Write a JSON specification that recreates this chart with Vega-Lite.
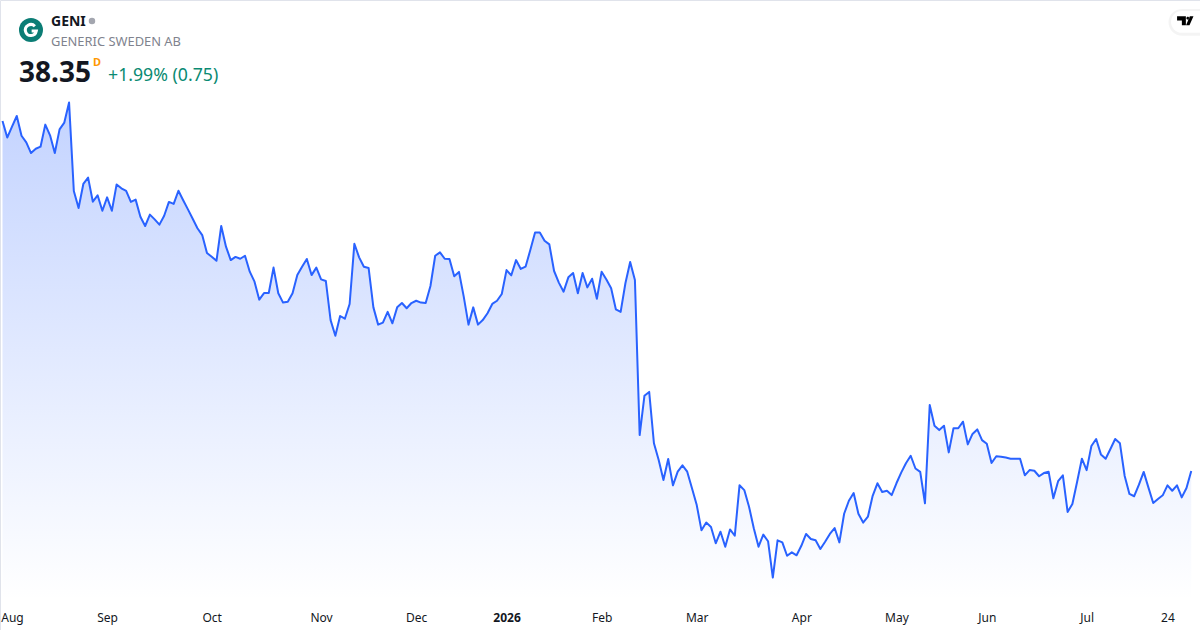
{
  "$schema": "https://vega.github.io/schema/vega-lite/v6.json",
  "width": 1200,
  "height": 630,
  "padding": 0,
  "autosize": {"type": "none"},
  "background": "#ffffff",
  "config": {"view": {"stroke": "#e0e3eb"}, "font": "Noto Sans"},
  "datasets": {
    "prices": [
      {"i":0,"p":53.75},{"i":1,"p":53.02},{"i":2,"p":53.5},{"i":3,"p":53.97},{"i":4,"p":53.1},{"i":5,"p":52.81},{"i":6,"p":52.34},{"i":7,"p":52.53},{"i":8,"p":52.62},{"i":9,"p":53.59},
      {"i":10,"p":53.12},{"i":11,"p":52.34},{"i":12,"p":53.38},{"i":13,"p":53.68},{"i":14,"p":54.56},{"i":15,"p":50.67},{"i":16,"p":49.92},{"i":17,"p":50.98},{"i":18,"p":51.26},{"i":19,"p":50.2},
      {"i":20,"p":50.48},{"i":21,"p":49.8},{"i":22,"p":50.39},{"i":23,"p":49.8},{"i":24,"p":50.96},{"i":25,"p":50.79},{"i":26,"p":50.68},{"i":27,"p":50.19},{"i":28,"p":50.29},{"i":29,"p":49.54},
      {"i":30,"p":49.13},{"i":31,"p":49.63},{"i":32,"p":49.42},{"i":33,"p":49.19},{"i":34,"p":49.58},{"i":35,"p":50.19},{"i":36,"p":50.1},{"i":37,"p":50.68},{"i":38,"p":50.26},{"i":39,"p":49.86},
      {"i":40,"p":49.45},{"i":41,"p":49.03},{"i":42,"p":48.73},{"i":43,"p":47.94},{"i":44,"p":47.78},{"i":45,"p":47.6},{"i":46,"p":49.13},{"i":47,"p":48.22},{"i":48,"p":47.63},{"i":49,"p":47.77},
      {"i":50,"p":47.69},{"i":51,"p":47.82},{"i":52,"p":47.12},{"i":53,"p":46.68},{"i":54,"p":45.89},{"i":55,"p":46.18},{"i":56,"p":46.18},{"i":57,"p":47.3},{"i":58,"p":46.17},{"i":59,"p":45.76},
      {"i":60,"p":45.8},{"i":61,"p":46.17},{"i":62,"p":46.97},{"i":63,"p":47.34},{"i":64,"p":47.68},{"i":65,"p":46.97},{"i":66,"p":47.3},{"i":67,"p":46.78},{"i":68,"p":46.71},{"i":69,"p":44.99},
      {"i":70,"p":44.3},{"i":71,"p":45.17},{"i":72,"p":45.05},{"i":73,"p":45.7},{"i":74,"p":48.35},{"i":75,"p":47.75},{"i":76,"p":47.34},{"i":77,"p":47.28},{"i":78,"p":45.55},{"i":79,"p":44.79},
      {"i":80,"p":44.88},{"i":81,"p":45.35},{"i":82,"p":44.85},{"i":83,"p":45.55},{"i":84,"p":45.74},{"i":85,"p":45.51},{"i":86,"p":45.74},{"i":87,"p":45.84},{"i":88,"p":45.76},{"i":89,"p":45.74},
      {"i":90,"p":46.49},{"i":91,"p":47.82},{"i":92,"p":47.97},{"i":93,"p":47.69},{"i":94,"p":47.68},{"i":95,"p":46.92},{"i":96,"p":47.11},{"i":97,"p":46.02},{"i":98,"p":44.79},{"i":99,"p":45.55},
      {"i":100,"p":44.79},{"i":101,"p":44.99},{"i":102,"p":45.29},{"i":103,"p":45.7},{"i":104,"p":45.84},{"i":105,"p":46.14},{"i":106,"p":47.19},{"i":107,"p":46.96},{"i":108,"p":47.63},{"i":109,"p":47.24},
      {"i":110,"p":47.34},{"i":111,"p":48.07},{"i":112,"p":48.84},{"i":113,"p":48.84},{"i":114,"p":48.48},{"i":115,"p":48.32},{"i":116,"p":47.15},{"i":117,"p":46.64},{"i":118,"p":46.24},{"i":119,"p":46.87},
      {"i":120,"p":47.06},{"i":121,"p":46.17},{"i":122,"p":47.06},{"i":123,"p":46.43},{"i":124,"p":46.81},{"i":125,"p":45.93},{"i":126,"p":47.12},{"i":127,"p":46.78},{"i":128,"p":46.39},{"i":129,"p":45.46},
      {"i":130,"p":45.35},{"i":131,"p":46.61},{"i":132,"p":47.55},{"i":133,"p":46.75},{"i":134,"p":39.93},{"i":135,"p":41.66},{"i":136,"p":41.83},{"i":137,"p":39.57},{"i":138,"p":38.83},{"i":139,"p":37.95},
      {"i":140,"p":38.88},{"i":141,"p":37.72},{"i":142,"p":38.32},{"i":143,"p":38.6},{"i":144,"p":38.32},{"i":145,"p":37.59},{"i":146,"p":36.85},{"i":147,"p":35.74},{"i":148,"p":36.08},{"i":149,"p":35.89},
      {"i":150,"p":35.17},{"i":151,"p":35.68},{"i":152,"p":35.02},{"i":153,"p":35.78},{"i":154,"p":35.5},{"i":155,"p":37.72},{"i":156,"p":37.51},{"i":157,"p":36.78},{"i":158,"p":35.83},{"i":159,"p":35.02},
      {"i":160,"p":35.55},{"i":161,"p":35.26},{"i":162,"p":33.66},{"i":163,"p":35.3},{"i":164,"p":35.21},{"i":165,"p":34.62},{"i":166,"p":34.77},{"i":167,"p":34.64},{"i":168,"p":35.06},{"i":169,"p":35.58},
      {"i":170,"p":35.36},{"i":171,"p":35.3},{"i":172,"p":34.92},{"i":173,"p":35.24},{"i":174,"p":35.58},{"i":175,"p":35.84},{"i":176,"p":35.21},{"i":177,"p":36.47},{"i":178,"p":37.04},{"i":179,"p":37.38},
      {"i":180,"p":36.47},{"i":181,"p":36.08},{"i":182,"p":36.34},{"i":183,"p":37.26},{"i":184,"p":37.81},{"i":185,"p":37.43},{"i":186,"p":37.48},{"i":187,"p":37.29},{"i":188,"p":37.81},{"i":189,"p":38.28},
      {"i":190,"p":38.69},{"i":191,"p":39.02},{"i":192,"p":38.46},{"i":193,"p":38.31},{"i":194,"p":36.93},{"i":195,"p":41.25},{"i":196,"p":40.34},{"i":197,"p":40.15},{"i":198,"p":40.34},{"i":199,"p":39.17},
      {"i":200,"p":40.23},{"i":201,"p":40.23},{"i":202,"p":40.52},{"i":203,"p":39.52},{"i":204,"p":39.98},{"i":205,"p":40.18},{"i":206,"p":39.71},{"i":207,"p":39.55},{"i":208,"p":38.7},{"i":209,"p":39.0},
      {"i":210,"p":38.98},{"i":211,"p":38.94},{"i":212,"p":38.89},{"i":213,"p":38.89},{"i":214,"p":38.89},{"i":215,"p":38.16},{"i":216,"p":38.39},{"i":217,"p":38.36},{"i":218,"p":38.12},{"i":219,"p":38.26},
      {"i":220,"p":38.32},{"i":221,"p":37.15},{"i":222,"p":37.9},{"i":223,"p":38.16},{"i":224,"p":36.55},{"i":225,"p":36.9},{"i":226,"p":37.88},{"i":227,"p":38.89},{"i":228,"p":38.39},{"i":229,"p":39.45},
      {"i":230,"p":39.76},{"i":231,"p":39.08},{"i":232,"p":38.89},{"i":233,"p":39.32},{"i":234,"p":39.76},{"i":235,"p":39.57},{"i":236,"p":38.13},{"i":237,"p":37.34},{"i":238,"p":37.24},{"i":239,"p":37.75},
      {"i":240,"p":38.31},{"i":241,"p":37.62},{"i":242,"p":36.94},{"i":243,"p":37.12},{"i":244,"p":37.28},{"i":245,"p":37.72},{"i":246,"p":37.48},{"i":247,"p":37.72},{"i":248,"p":37.19},{"i":249,"p":37.6},
      {"i":250,"p":38.35}
    ]
  },
  "layer": [
    {
      "data": {"name": "prices"},
      "mark": {
        "type": "area",
        "line": false,
        "fill": {
          "gradient": "linear", "x1": 0, "y1": 0, "x2": 0, "y2": 1,
          "stops": [
            {"offset": 0, "color": "rgba(41,98,255,0.28)"},
            {"offset": 1, "color": "rgba(41,98,255,0)"}
          ]
        }
      },
      "encoding": {
        "x": {
          "field": "i", "type": "quantitative",
          "scale": {"domain": [-0.526, 251.84], "nice": false, "zero": false},
          "axis": {
            "title": null, "grid": false, "domain": false, "ticks": false,
            "offset": -18, "labelPadding": 0,
            "values": [2, 22, 44, 67, 87, 106, 126, 146, 168, 188, 207, 228, 245],
            "labelExpr": "{'2':'Aug','22':'Sep','44':'Oct','67':'Nov','87':'Dec','106':'2026','126':'Feb','146':'Mar','168':'Apr','188':'May','207':'Jun','228':'Jul','245':'24'}[datum.value]",
            "labelFont": "Noto Sans", "labelFontSize": 12, "labelColor": "#131722",
            "labelFontWeight": {"expr": "datum.value == 106 ? 'bold' : 'normal'"},
            "labelOverlap": false, "labelBound": false, "labelFlush": false
          }
        },
        "y": {
          "field": "p", "type": "quantitative",
          "scale": {"domain": [31.354, 59.074], "nice": false, "zero": false},
          "axis": null
        },
        "y2": {"datum": 32.67}
      }
    },
    {
      "data": {"name": "prices"},
      "mark": {"type": "line", "stroke": "#2962ff", "strokeWidth": 2, "strokeJoin": "round"},
      "encoding": {
        "x": {"field": "i", "type": "quantitative"},
        "y": {"field": "p", "type": "quantitative"}
      }
    },
    {
      "data": {"values": [{"name": "logo"}]},
      "mark": {"type": "point", "filled": true, "shape": "circle", "size": 576, "color": "#0b7d75", "opacity": 1},
      "encoding": {"x": {"datum": 5.99, "type": "quantitative"}, "y": {"datum": 57.75, "type": "quantitative"}}
    },
    {
      "data": {"values": [{"name": "logo glyph"}]},
      "mark": {
        "type": "point", "filled": false, "size": 169, "stroke": "#ffffff", "strokeWidth": 3, "opacity": 1,
        "shape": "M0.6,-0.6 A0.85,0.85 0 1 0 0.82,0.15 L0.1,0.15"
      },
      "encoding": {"x": {"datum": 5.99, "type": "quantitative"}, "y": {"datum": 57.75, "type": "quantitative"}}
    },
    {
      "data": {"values": [{"label": "GENI"}]},
      "mark": {"type": "text", "align": "left", "baseline": "middle", "font": "Noto Sans", "fontSize": 14, "fontWeight": "bold", "color": "#131722"},
      "encoding": {"text": {"field": "label"}, "x": {"datum": 10.2, "type": "quantitative"}, "y": {"datum": 58.11, "type": "quantitative"}}
    },
    {
      "data": {"values": [{"name": "status"}]},
      "mark": {"type": "point", "filled": true, "shape": "circle", "size": 42, "color": "#a3a6af", "opacity": 1},
      "encoding": {"x": {"datum": 18.82, "type": "quantitative"}, "y": {"datum": 58.15, "type": "quantitative"}}
    },
    {
      "data": {"values": [{"label": "GENERIC SWEDEN AB"}]},
      "mark": {"type": "text", "align": "left", "baseline": "middle", "font": "Noto Sans", "fontSize": 12.9, "color": "#80838e"},
      "encoding": {"text": {"field": "label"}, "x": {"datum": 10.2, "type": "quantitative"}, "y": {"datum": 57.23, "type": "quantitative"}}
    },
    {
      "data": {"values": [{"label": "38.35"}]},
      "mark": {"type": "text", "align": "left", "baseline": "middle", "font": "Noto Sans", "fontSize": 28, "fontWeight": "bold", "color": "#131722"},
      "encoding": {"text": {"field": "label"}, "x": {"datum": 3.47, "type": "quantitative"}, "y": {"datum": 55.84, "type": "quantitative"}}
    },
    {
      "data": {"values": [{"label": "D"}]},
      "mark": {"type": "text", "align": "left", "baseline": "middle", "font": "Noto Sans", "fontSize": 11, "fontWeight": "bold", "color": "#ff9800"},
      "encoding": {"text": {"field": "label"}, "x": {"datum": 19.03, "type": "quantitative"}, "y": {"datum": 56.31, "type": "quantitative"}}
    },
    {
      "data": {"values": [{"label": "+1.99% (0.75)"}]},
      "mark": {"type": "text", "align": "left", "baseline": "middle", "font": "Noto Sans", "fontSize": 17.7, "color": "#0a8a72"},
      "encoding": {"text": {"field": "label"}, "x": {"datum": 22.19, "type": "quantitative"}, "y": {"datum": 55.71, "type": "quantitative"}}
    },
    {
      "data": {"values": [{"name": "badge shadow"}]},
      "mark": {
        "type": "point", "filled": false, "size": 900, "stroke": "#000000", "strokeOpacity": 0.045, "strokeWidth": 5, "opacity": 1,
        "shape": "M-0.27,-0.73 L1.2,-0.73 L1.2,0.73 L-0.27,0.73 A0.73,0.73 0 0 1 -0.27,-0.73 Z"
      },
      "encoding": {"x": {"datum": 248.9, "type": "quantitative"}, "y": {"datum": 58.09, "type": "quantitative"}}
    },
    {
      "data": {"values": [{"name": "badge"}]},
      "mark": {
        "type": "point", "filled": true, "size": 900, "color": "#ffffff", "opacity": 1,
        "shape": "M-0.27,-0.73 L1.2,-0.73 L1.2,0.73 L-0.27,0.73 A0.73,0.73 0 0 1 -0.27,-0.73 Z"
      },
      "encoding": {"x": {"datum": 248.9, "type": "quantitative"}, "y": {"datum": 58.11, "type": "quantitative"}}
    },
    {
      "data": {"values": [{"name": "badge glyph"}]},
      "mark": {
        "type": "point", "filled": true, "size": 256, "color": "#000000", "opacity": 1,
        "shape": "M-1,-0.55 L0.1,-0.55 L0.1,0.6 L-0.4,0.6 L-0.4,-0.02 L-1,-0.02 Z M0.16,-0.3 A0.18,0.18 0 1 0 0.52,-0.3 A0.18,0.18 0 1 0 0.16,-0.3 Z M0.6,-0.55 L1.05,-0.55 L0.55,0.6 L0.12,0.6 Z"
      },
      "encoding": {"x": {"datum": 248.7, "type": "quantitative"}, "y": {"datum": 58.17, "type": "quantitative"}}
    }
  ]
}
